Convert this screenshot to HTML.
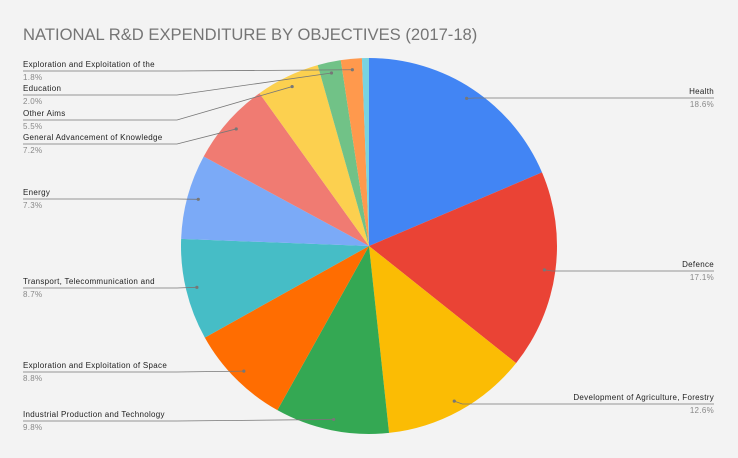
<!DOCTYPE html>
<html><head><meta charset="utf-8"><style>
html,body{margin:0;padding:0;background:#f3f3f3;}
svg{display:block;font-family:"Liberation Sans",sans-serif;}
</style></head><body>
<svg id="s" width="738" height="458" xmlns="http://www.w3.org/2000/svg">
<rect width="738" height="458" fill="#f3f3f3"/>
<text x="23" y="40" font-size="16.6" fill="#757575">NATIONAL R&amp;D EXPENDITURE BY OBJECTIVES (2017-18)</text>
<g id="pie"></g>
<g id="lab"></g>
</svg>
<script>
var cx=369,cy=246,R=188;
var d=[
["Health",18.6,"#4285f4","R",94],
["Defence",17.1,"#ea4335","R",267],
["Development of Agriculture, Forestry",12.6,"#fbbc04","R",400],
["Industrial Production and Technology",9.8,"#34a853","L",417],
["Exploration and Exploitation of Space",8.8,"#ff6d01","L",368],
["Transport, Telecommunication and",8.7,"#46bdc6","L",284],
["Energy",7.3,"#7baaf7","L",195],
["General Advancement of Knowledge",7.2,"#f07b72","L",140],
["Other Aims",5.5,"#fcd04f","L",116],
["Education",2.0,"#71c287","L",91],
["Exploration and Exploitation of the",1.8,"#ff994d","L",67],
["",0.6,"#78d3e0","N",0]];
var tot=0;d.forEach(function(e){tot+=e[1];});
var a=0,p="",l="";
function pt(ang,r){return [cx+r*Math.sin(ang),cy-r*Math.cos(ang)];}
d.forEach(function(e){
 var a0=a/tot*2*Math.PI;a+=e[1];var a1=a/tot*2*Math.PI;
 var s=pt(a0,R),t=pt(a1,R),big=(a1-a0)>Math.PI?1:0;
 p+='<path d="M'+cx+','+cy+'L'+s[0]+','+s[1]+'A'+R+','+R+' 0 '+big+' 1 '+t[0]+','+t[1]+'Z" fill="'+e[2]+'"/>';
 if(e[3]=="N")return;
 var m=pt((a0+a1)/2,177),y=e[4],ly=y+4;
 if(e[3]=="R"){
  l+='<polyline points="'+m[0]+','+m[1]+' '+(m[0]+8)+','+ly+' 714,'+ly+'" fill="none" stroke="#777" stroke-width="0.8"/>';
  l+='<text x="714" y="'+y+'" font-size="8" letter-spacing="0.3" fill="#222" text-anchor="end">'+e[0]+'</text>';
  l+='<text x="714" y="'+(y+13)+'" font-size="8" letter-spacing="0.3" fill="#888" text-anchor="end">'+e[1].toFixed(1)+'%</text>';
 }else{
  var ex=Math.min(177,m[0]-8);
  l+='<polyline points="23,'+ly+' '+ex+','+ly+' '+m[0]+','+m[1]+'" fill="none" stroke="#777" stroke-width="0.8"/>';
  l+='<text x="23" y="'+y+'" font-size="8" letter-spacing="0.3" fill="#222">'+e[0]+'</text>';
  l+='<text x="23" y="'+(y+13)+'" font-size="8" letter-spacing="0.3" fill="#888">'+e[1].toFixed(1)+'%</text>';
 }
 l+='<circle cx="'+m[0]+'" cy="'+m[1]+'" r="1.6" fill="#777"/>';
});
document.getElementById("pie").innerHTML=p;
document.getElementById("lab").innerHTML=l;
</script>
</body></html>
